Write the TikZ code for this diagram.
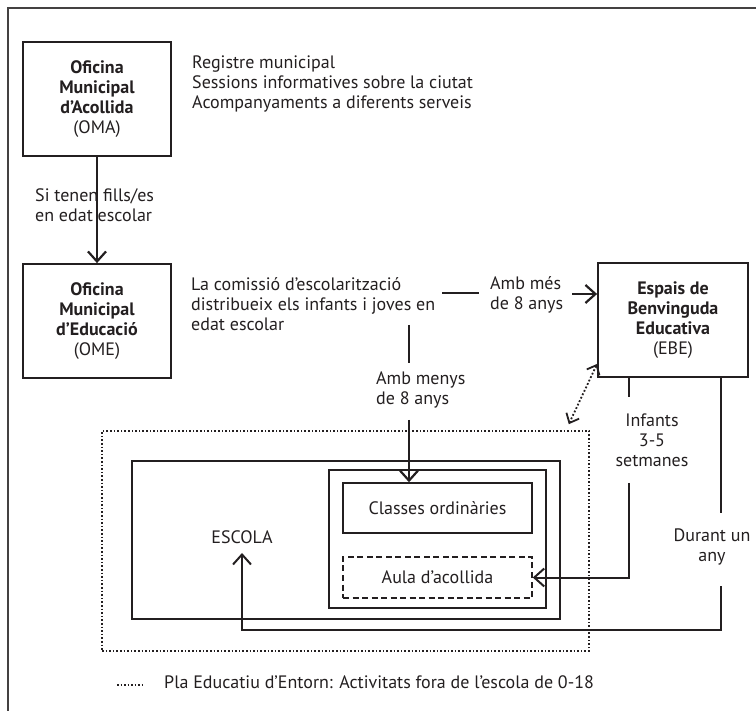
\documentclass[tikz,border=0pt]{standalone}
\usepackage{fontspec}
\setmainfont{PT Sans}
\usetikzlibrary{arrows.meta}
\definecolor{ink}{HTML}{231F20}
\tikzset{
  box/.style={draw=ink, line width=1.8pt, align=center, text=ink, inner sep=0pt},
  txt/.style={align=left, inner sep=0pt, text=ink},
  link/.style={draw=ink, line width=1.6pt},
  flow/.style={draw=ink, line width=2.2pt, -{Straight Barb[length=10pt,width=18pt]}},
}

\begin{document}
\begin{tikzpicture}[x=1pt,y=-1pt,font=\fontsize{18}{20}\selectfont]
\useasboundingbox (0,0) rectangle (756,711);
\path[draw=ink!85, line width=1.8pt] (756,8) -| (8,711);

\node[box, minimum width=148pt, minimum height=114pt] (oma) at (97,99) {\textbf{Oficina}\\\textbf{Municipal}\\\textbf{d’Acollida}\\(OMA)};
\node[txt, anchor=west] (omainfo) at (192,84) {Registre municipal\\Sessions informatives sobre la ciutat\\Acompanyaments a diferents serveis};
\node[txt, anchor=west] (fills) at (35,205) {Si tenen fills/es\\en edat escolar};
\node[box, minimum width=148pt, minimum height=114pt] (ome) at (97,321) {\textbf{Oficina}\\\textbf{Municipal}\\\textbf{d’Educació}\\(OME)};
\node[txt, anchor=west] (comissio) at (191,304) {La comissió d’escolarització\\distribueix els infants i joves en\\edat escolar};
\node[box, minimum width=150pt, minimum height=114pt] (ebe) at (673,320) {\textbf{Espais de}\\\textbf{Benvinguda}\\\textbf{Educativa}\\(EBE)};
\node[txt, anchor=west] (mes) at (490,295) {Amb més\\de 8 anys};
\node[txt, anchor=west] (menys) at (376,390) {Amb menys\\de 8 anys};

\node[draw=ink, line width=1.6pt, dotted, minimum width=487pt, minimum height=220pt] (pee) at (345.5,541) {};
\node[draw=ink, line width=2.2pt, minimum width=428pt, minimum height=158pt] (escola) at (346,540) {};
\node[draw=ink, line width=1.5pt, minimum width=217pt, minimum height=138pt] (aules) at (437.5,539) {};
\node[draw=ink, line width=1.5pt, text=ink, minimum width=189pt, minimum height=50pt] (classes) at (437.5,508) {Classes ordinàries};
\node[draw=ink, line width=1.5pt, dash pattern=on 6pt off 3.5pt, text=ink, minimum width=189pt, minimum height=41pt] (aula) at (437.5,577.5) {Aula d’acollida};
\node[txt] (escolalbl) at (242,537) {ESCOLA};
\node[txt, align=center] (infants) at (652,440) {Infants\\3-5\\setmanes};
\node[txt, align=center] (durant) at (712,547) {Durant un\\any};

\coordinate (h1) at (442,293);
\coordinate (h2) at (479,293);
\coordinate (e1) at (572,294);
\coordinate (d1) at (409,325);
\coordinate (d2) at (409,363);
\coordinate (d3) at (409,420);
\coordinate (i1) at (629,397);
\coordinate (i2) at (629,483);
\coordinate (u1) at (721,513);
\coordinate (u2) at (721,586);
\coordinate (ret) at (242,630);
\coordinate (up) at (242,553);

\path[flow] (oma) -- (ome);
\path[link] (h1) -- (h2);
\path[flow] (e1) -- (e1 -| ebe.west);
\path[link] (d1) -- (d2);
\path[flow] (d3) -- (d3 |- classes.north);
\path[link] (ebe.south -| i1) -- (i1);
\path[flow, line width=2pt] (i2) |- (aula.east);
\path[link, line width=2pt] (ebe.south -| u1) -- (u1);
\path[flow, line width=2pt] (u2) |- (ret) -- (up);
\path[draw=ink, line width=1.8pt, dotted, {Straight Barb[length=8pt,width=14pt]}-{Straight Barb[length=8pt,width=14pt]}] ([yshift=14pt]ebe.south west) -- ([xshift=-21pt,yshift=6pt]pee.north east);

\coordinate (k1) at (117,685);
\coordinate (k2) at (145,685);
\path[draw=ink, line width=1.5pt, dotted] (k1) -- (k2);
\node[txt, anchor=west] (legend) at (164,682) {Pla Educatiu d’Entorn: Activitats fora de l’escola de 0-18};
\end{tikzpicture}
\end{document}
